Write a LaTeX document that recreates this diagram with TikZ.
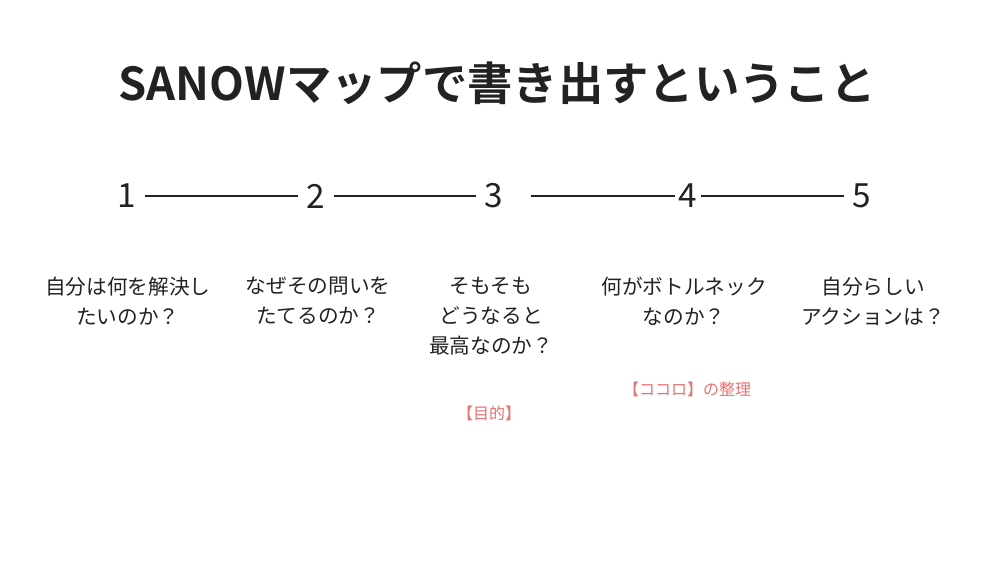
\documentclass[tikz,border=0pt]{standalone}
\usepackage{fontspec}
\setmainfont{Noto Sans CJK JP}
\newfontfamily\titlefont{Noto Sans CJK JP Bold}
\usepackage{tikz}
\usetikzlibrary{positioning}
\definecolor{ink}{HTML}{222222}
\definecolor{accent}{HTML}{E57373}
\tikzstyle{num}=[inner sep=6,font=\fontsize{25}{25}\selectfont,text=ink]
\tikzstyle{step label}=[align=center,font=\fontsize{15.5}{22.5}\selectfont,text=ink,anchor=north]
\tikzstyle{note}=[font=\fontsize{12}{14}\selectfont,text=accent]
\tikzset{every picture/.style={
    line width=1
  }
}
\begin{document}
\begin{tikzpicture}[x=0.75pt,y=-0.75pt]
            \useasboundingbox[fill=white] (0,0) rectangle (1000,562);
            \node[font=\titlefont\fontsize{34}{34}\selectfont,text=ink] (title) at (497,83) {SANOWマップで書き出すということ};
            \node[num] (n1) at (127,196) {1};
            \node[num] (n2) at (316,196) {2};
            \node[num] (n3) at (494,196) {3};
            \node[num] (n4) at (688,196) {4};
            \node[num] (n5) at (862,196) {5};
            \draw[ink] (n1) -- (n2);
            \draw[ink] (n2) -- (n3);
            \draw[ink] ([xshift=14]n3.east) -- ([xshift=4]n4.west);
            \draw[ink] ([xshift=-4]n4.east) -- (n5);
            \node[step label] (q1) at (128,272) {自分は何を解決し\\たいのか？};
            \node[step label] (q2) at (318,272) {なぜその問いを\\たてるのか？};
            \node[step label] (q3) at (491,272) {そもそも\\どうなると\\最高なのか？};
            \node[step label] (q4) at (684,272) {何がボトルネック\\なのか？};
            \node[step label] (q5) at (873,272) {自分らしい\\アクションは？};
            \node[note] (goal) at (489,413) {【目的】};
            \node[note] (heart) at (687,389) {【ココロ】の整理};
          \end{tikzpicture}
\end{document}
